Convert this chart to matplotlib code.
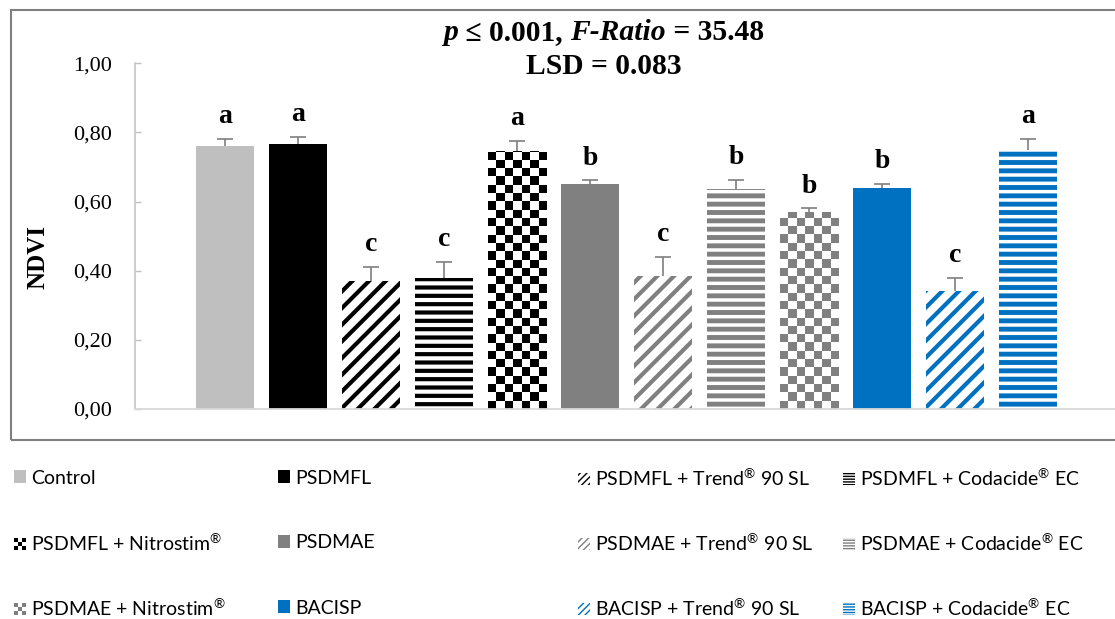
import numpy as np
import matplotlib
matplotlib.use("Agg")
import matplotlib.pyplot as plt
import matplotlib.patches as mpatches
from matplotlib.colors import ListedColormap
from matplotlib.legend_handler import HandlerBase

# Data
treatments = [
    "Control", "PSDMFL", "PSDMFL + Trend$^{\u00ae}$ 90 SL", "PSDMFL + Codacide$^{\u00ae}$ EC",
    "PSDMFL + Nitrostim$^{\u00ae}$", "PSDMAE", "PSDMAE + Trend$^{\u00ae}$ 90 SL", "PSDMAE + Codacide$^{\u00ae}$ EC",
    "PSDMAE + Nitrostim$^{\u00ae}$", "BACISP", "BACISP + Trend$^{\u00ae}$ 90 SL", "BACISP + Codacide$^{\u00ae}$ EC",
]
ndvi = [0.761, 0.767, 0.370, 0.378, 0.746, 0.651, 0.385, 0.636, 0.569, 0.638, 0.340, 0.749]
ndvi_err = [0.020, 0.020, 0.042, 0.048, 0.029, 0.010, 0.055, 0.026, 0.011, 0.012, 0.038, 0.031]
groups = ["a", "a", "c", "c", "a", "b", "c", "b", "b", "b", "c", "a"]
y_ticks = [0.0, 0.2, 0.4, 0.6, 0.8, 1.0]
y_tick_labels = ["0,00", "0,20", "0,40", "0,60", "0,80", "1,00"]

# Styles
colors = ["#bfbfbf", "#000000", "#000000", "#000000", "#000000", "#808080",
          "#808080", "#808080", "#808080", "#0070c0", "#0070c0", "#0070c0"]
fills = ["solid", "solid", "diag", "horiz", "check", "solid",
         "diag", "horiz", "check", "solid", "diag", "horiz"]

SERIF = "Liberation Serif"
SANS = "Lato"
plt.rcParams["mathtext.fontset"] = "custom"
plt.rcParams["mathtext.rm"] = SANS
plt.rcParams["mathtext.it"] = SANS + ":italic"
plt.rcParams["mathtext.bf"] = SANS + ":bold"

W, H = 1115, 619
fig = plt.figure(figsize=(W / 100, H / 100), dpi=100)
ax = fig.add_axes([135 / W, 210 / H, 980 / W, 345.7 / H])

bar_w = 0.795
x = np.arange(len(ndvi))
ax.set_xlim(-1.233, 12.19)
ax.set_ylim(0, 1)


def checker_fill(ax, rect, xc, h, color, cell_px=8.3):
    """Fill a bar with a checkerboard image clipped to the bar."""
    p0 = ax.transData.transform((xc - bar_w / 2, 0))
    p1 = ax.transData.transform((xc + bar_w / 2, h))
    ncols = max(1, int(round((p1[0] - p0[0]) / cell_px)))
    nrows = int(np.ceil((p1[1] - p0[1]) / cell_px))
    top = nrows * cell_px / (p1[1] - p0[1]) * h
    grid = (np.add.outer(np.arange(nrows), np.arange(ncols)) % 2)
    im = ax.imshow(grid, cmap=ListedColormap(["white", color]), vmin=0, vmax=1,
                   extent=(xc - bar_w / 2, xc + bar_w / 2, 0, top),
                   origin="upper", interpolation="nearest", aspect="auto", zorder=2)
    im.set_clip_path(rect)


handles = []
for i in range(len(ndvi)):
    c, f = colors[i], fills[i]
    if f == "solid":
        bars = ax.bar(x[i], ndvi[i], bar_w, color=c, linewidth=0, zorder=2)
        handles.append(mpatches.Patch(facecolor=c, linewidth=0))
    elif f == "diag":
        bars = ax.bar(x[i], ndvi[i], bar_w, facecolor="white", edgecolor=c,
                      hatch="//", linewidth=0, zorder=2)
        bars[0].set_hatch_linewidth(3.0)
        h = mpatches.Patch(facecolor="white", edgecolor=c, hatch="/////", linewidth=0)
        h.set_hatch_linewidth(1.4)
        handles.append(h)
    elif f == "horiz":
        bars = ax.bar(x[i], ndvi[i], bar_w, facecolor="white", edgecolor=c,
                      hatch="--", linewidth=0, zorder=2)
        bars[0].set_hatch_linewidth(3.0 if c == "#000000" else 3.5)
        h = mpatches.Patch(facecolor="white", edgecolor=c, hatch="------", linewidth=0)
        h.set_hatch_linewidth(1.0)
        handles.append(h)
    else:
        bars = ax.bar(x[i], ndvi[i], bar_w, facecolor="white", linewidth=0, zorder=2)
        checker_fill(ax, bars[0], x[i], ndvi[i], c)
        handles.append(mpatches.Patch(facecolor="white", edgecolor=c, linewidth=0))

# upper error bars only
eb = ax.errorbar(x, ndvi, yerr=[np.zeros(len(ndvi)), ndvi_err], fmt="none",
                 ecolor="#7f7f7f", elinewidth=1.2, capsize=5.5, capthick=1.2, zorder=3)
eb[1][0].set_visible(False)

for xi, v, e, g in zip(x, ndvi, ndvi_err, groups):
    ax.annotate(g, xy=(xi, v + e), xytext=(0, 11.5), textcoords="offset points",
                ha="center", va="baseline", fontsize=20, fontweight="bold",
                fontfamily=SERIF)

ax.set_xlim(-1.233, 12.19)
ax.set_ylim(0, 1)
ax.set_xticks([])
ax.set_yticks(y_ticks)
ax.set_yticklabels(y_tick_labels, fontfamily=SERIF, fontsize=16)
ax.tick_params(axis="y", direction="in", length=4, width=1, color="#bfbfbf", pad=16.5)
for s in ["top", "right"]:
    ax.spines[s].set_visible(False)
ax.spines["left"].set_color("#bfbfbf")
ax.spines["bottom"].set_color("#d9d9d9")
ax.spines["left"].set_linewidth(1.1)
ax.spines["bottom"].set_linewidth(1.3)
ax.patch.set_alpha(0)

fig.text(38 / W, 1 - 257 / H, "NDVI", rotation=90, ha="center", va="center",
         fontsize=18, fontweight="bold", fontfamily=SERIF)

# title lines
TFS = 21.3
t1 = fig.text(443 / W, 1 - 33 / H, "p", ha="left", va="center", fontsize=TFS,
              fontweight="bold", fontstyle="italic", fontfamily=SERIF)
t2 = ax.annotate(" \u2264 0.001, ", xy=(1, 0), xycoords=t1, ha="left", va="bottom",
                 fontsize=TFS, fontweight="bold", fontfamily=SERIF, annotation_clip=False)
t3 = ax.annotate("F-Ratio", xy=(1, 0), xycoords=t2, ha="left", va="bottom",
                 fontsize=TFS, fontweight="bold", fontstyle="italic", fontfamily=SERIF,
                 annotation_clip=False)
ax.annotate(" = 35.48", xy=(1, 0), xycoords=t3, ha="left", va="bottom",
            fontsize=TFS, fontweight="bold", fontfamily=SERIF, annotation_clip=False)
fig.text(604 / W, 1 - 66 / H, "LSD = 0.083", ha="center", va="center", fontsize=TFS,
         fontweight="bold", fontfamily=SERIF)

# outer chart border
fig.patches.append(mpatches.Rectangle((11 / W, 1 - 440 / H), 1.1, 430 / H,
                                      transform=fig.transFigure, fill=False,
                                      edgecolor="#7f7f7f", linewidth=1.5))


class CheckerHandler(HandlerBase):
    def create_artists(self, legend, orig_handle, xdescent, ydescent,
                       width, height, fontsize, trans):
        n = 3
        cw, ch = width / n, height / n
        out = []
        for a in range(n):
            for b in range(n):
                fc = orig_handle.get_edgecolor() if (a + b) % 2 == 0 else "white"
                out.append(mpatches.Rectangle((-xdescent + a * cw, -ydescent + b * ch), cw, ch,
                                              facecolor=fc, edgecolor="none", transform=trans))
        return out


hmap = {handles[i]: CheckerHandler() for i in range(len(fills)) if fills[i] == "check"}
col_x = [14, 278, 578, 843]
row_y = [478, 543, 608]
fs = 14
hl = 12 / (fs * 100 / 72)
for k in range(len(treatments)):
    r, c = divmod(k, 4)
    fig.legend([handles[k]], [treatments[k]], handler_map=hmap,
               loc="center left", bbox_to_anchor=(col_x[c] / W, 1 - row_y[r] / H),
               frameon=False, borderpad=0, borderaxespad=0,
               prop={"family": SANS, "size": fs},
               handlelength=hl, handleheight=hl, handletextpad=0.25)

fig.savefig("out.png", dpi=100)
